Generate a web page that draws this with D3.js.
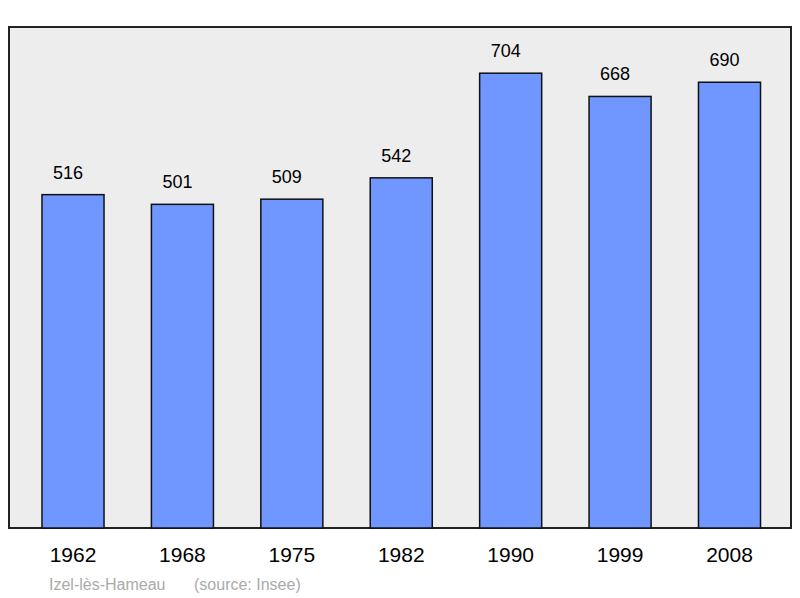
<!DOCTYPE html>
<html><head><meta charset="utf-8">
<script src="https://cdn.jsdelivr.net/npm/d3@7"></script>
<style>body{margin:0;background:#fff}</style>
</head><body>
<svg id="chart" width="800" height="598"></svg>
<script>
const years = ["1962","1968","1975","1982","1990","1999","2008"];
const population = [516, 501, 509, 542, 704, 668, 690];

const svg = d3.select("#chart");
const font = "Liberation Sans, Arial, sans-serif";

// plot frame
svg.append("rect")
    .attr("x", 9).attr("y", 27)
    .attr("width", 782).attr("height", 501)
    .attr("fill", "#ededed")
    .attr("stroke", "#222").attr("stroke-width", 2);

const x = d3.scaleBand()
    .domain(years)
    .range([18.3, 784.2])
    .paddingInner(0.433)
    .paddingOuter(0.2165);

const y = d3.scaleLinear()
    .domain([0, 775.5])
    .range([528, 27]);

svg.selectAll(".bar")
    .data(years)
    .join("rect")
    .attr("class", "bar")
    .attr("x", d => x(d))
    .attr("y", (d, i) => y(population[i]))
    .attr("width", x.bandwidth())
    .attr("height", (d, i) => y(0) - y(population[i]))
    .attr("fill", "#7097ff")
    .attr("stroke", "#111").attr("stroke-width", 1.5);

svg.selectAll(".val")
    .data(years)
    .join("text")
    .attr("x", d => x(d) + x.bandwidth() / 2 - 5)
    .attr("y", (d, i) => y(population[i]) - 16)
    .attr("text-anchor", "middle")
    .attr("font-family", font).attr("font-size", 18)
    .text((d, i) => population[i]);

const xAxis = d3.axisBottom(x).tickSize(0).tickPadding(0);
const g = svg.append("g").attr("transform", "translate(0,547)").call(xAxis);
g.select(".domain").remove();
g.selectAll("text")
    .attr("font-family", font).attr("font-size", 21).attr("fill", "#000")
    .attr("dy", "0.71em");

svg.append("text")
    .attr("x", 49).attr("y", 590)
    .attr("font-family", font).attr("font-size", 16).attr("fill", "#aaa")
    .text("Izel-lès-Hameau");
svg.append("text")
    .attr("x", 194).attr("y", 590)
    .attr("font-family", font).attr("font-size", 16).attr("fill", "#aaa")
    .text("(source: Insee)");
</script>
</body></html>
